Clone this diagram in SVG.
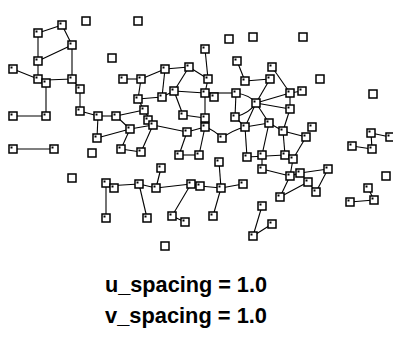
<svg xmlns="http://www.w3.org/2000/svg" xmlns:xlink="http://www.w3.org/1999/xlink" width="393" height="338" viewBox="0 0 393 338">
<style>
.e line{stroke:#000;stroke-width:1.1;fill:none}
.e path{stroke:#000;stroke-width:1.1;fill:none}
.bx{fill:#fff;stroke:#000;stroke-width:1.5}
.dt{fill:#000}
.lb{font-family:"Liberation Sans",Arial,sans-serif;font-weight:bold;font-size:22px;fill:#000}
</style>
<defs>
<g id="b"><rect class="bx" x="-4" y="-4" width="8" height="8"/><rect class="dt" x="-2.5" y="-2.5" width="2" height="2"/></g>
<g id="i"><rect class="bx" x="-4" y="-4" width="8" height="8"/></g>
</defs>
<rect width="393" height="338" fill="#fff"/>
<g id="connectors" class="e">
<line x1="38" y1="33" x2="62" y2="25"/>
<line x1="62" y1="25" x2="72" y2="45"/>
<line x1="38" y1="33" x2="38" y2="61"/>
<line x1="38" y1="61" x2="72" y2="45"/>
<line x1="38" y1="61" x2="38" y2="79"/>
<line x1="13" y1="69" x2="38" y2="79"/>
<line x1="38" y1="79" x2="46" y2="83"/>
<line x1="46" y1="80" x2="72" y2="79"/>
<line x1="72" y1="45" x2="72" y2="79"/>
<line x1="72" y1="79" x2="80" y2="89"/>
<line x1="46" y1="83" x2="46" y2="116"/>
<line x1="13" y1="116" x2="46" y2="116"/>
<line x1="80" y1="89" x2="80" y2="111"/>
<line x1="80" y1="111" x2="98" y2="116"/>
<line x1="98" y1="116" x2="116" y2="116"/>
<line x1="116" y1="116" x2="144" y2="110"/>
<line x1="116" y1="116" x2="130" y2="129"/>
<line x1="98" y1="116" x2="97" y2="138"/>
<line x1="97" y1="138" x2="130" y2="129"/>
<line x1="121" y1="149" x2="130" y2="129"/>
<line x1="121" y1="149" x2="141" y2="152"/>
<line x1="141" y1="152" x2="153" y2="125"/>
<line x1="130" y1="129" x2="153" y2="125"/>
<line x1="144" y1="110" x2="153" y2="125"/>
<line x1="153" y1="125" x2="187" y2="132"/>
<line x1="187" y1="132" x2="205" y2="127"/>
<path d="M205,127 Q214,130 222,138"/>
<path d="M222,138 Q233,130 245,127"/>
<line x1="187" y1="132" x2="179" y2="155"/>
<line x1="179" y1="155" x2="199" y2="155"/>
<line x1="205" y1="127" x2="199" y2="155"/>
<line x1="123" y1="79" x2="141" y2="79"/>
<line x1="141" y1="79" x2="165" y2="69"/>
<line x1="165" y1="69" x2="189" y2="67"/>
<line x1="189" y1="67" x2="208" y2="79"/>
<line x1="205" y1="49" x2="208" y2="79"/>
<line x1="141" y1="79" x2="138" y2="99"/>
<line x1="165" y1="69" x2="162" y2="97"/>
<line x1="138" y1="99" x2="162" y2="97"/>
<line x1="162" y1="97" x2="174" y2="91"/>
<line x1="138" y1="99" x2="144" y2="110"/>
<line x1="189" y1="67" x2="174" y2="91"/>
<line x1="174" y1="91" x2="205" y2="93"/>
<line x1="208" y1="79" x2="205" y2="93"/>
<line x1="205" y1="93" x2="236" y2="93"/>
<line x1="174" y1="91" x2="183" y2="115"/>
<line x1="183" y1="115" x2="205" y2="118"/>
<line x1="205" y1="93" x2="205" y2="127"/>
<line x1="236" y1="93" x2="235" y2="117"/>
<line x1="235" y1="117" x2="245" y2="127"/>
<path d="M236,93 Q250,95 256,103"/>
<path d="M256,103 Q250,113 235,117"/>
<line x1="237" y1="61" x2="245" y2="81"/>
<line x1="245" y1="81" x2="270" y2="79"/>
<line x1="272" y1="67" x2="290" y2="93"/>
<line x1="270" y1="79" x2="256" y2="103"/>
<line x1="256" y1="103" x2="290" y2="93"/>
<line x1="290" y1="93" x2="302" y2="91"/>
<line x1="256" y1="103" x2="290" y2="109"/>
<line x1="290" y1="93" x2="290" y2="109"/>
<line x1="256" y1="103" x2="269" y2="123"/>
<line x1="256" y1="103" x2="245" y2="127"/>
<line x1="245" y1="127" x2="269" y2="123"/>
<line x1="269" y1="123" x2="283" y2="131"/>
<line x1="290" y1="109" x2="283" y2="131"/>
<line x1="283" y1="131" x2="306" y2="137"/>
<line x1="245" y1="127" x2="247" y2="157"/>
<line x1="269" y1="123" x2="262" y2="155"/>
<line x1="283" y1="131" x2="285" y2="155"/>
<line x1="306" y1="137" x2="293" y2="159"/>
<line x1="247" y1="157" x2="285" y2="155"/>
<line x1="262" y1="155" x2="262" y2="169"/>
<line x1="262" y1="169" x2="290" y2="176"/>
<line x1="293" y1="159" x2="290" y2="176"/>
<line x1="290" y1="176" x2="300" y2="173"/>
<line x1="300" y1="173" x2="328" y2="169"/>
<line x1="328" y1="169" x2="316" y2="192"/>
<line x1="308" y1="182" x2="316" y2="192"/>
<line x1="280" y1="197" x2="290" y2="176"/>
<line x1="280" y1="197" x2="308" y2="182"/>
<line x1="161" y1="168" x2="156" y2="188"/>
<line x1="106" y1="183" x2="106" y2="218"/>
<line x1="106" y1="186" x2="139" y2="184"/>
<line x1="139" y1="184" x2="156" y2="188"/>
<line x1="139" y1="184" x2="147" y2="218"/>
<line x1="156" y1="188" x2="191" y2="184"/>
<line x1="191" y1="184" x2="200" y2="186"/>
<line x1="191" y1="184" x2="172" y2="216"/>
<line x1="172" y1="216" x2="185" y2="222"/>
<line x1="200" y1="186" x2="221" y2="188"/>
<line x1="221" y1="188" x2="219" y2="162"/>
<line x1="221" y1="188" x2="243" y2="184"/>
<line x1="221" y1="188" x2="213" y2="216"/>
<line x1="262" y1="206" x2="253" y2="236"/>
<line x1="253" y1="236" x2="272" y2="224"/>
<line x1="13" y1="149" x2="54" y2="149"/>
<line x1="371" y1="133" x2="390" y2="137"/>
<line x1="371" y1="133" x2="372" y2="149"/>
<line x1="352" y1="146" x2="372" y2="149"/>
<line x1="368" y1="188" x2="374" y2="200"/>
<line x1="350" y1="202" x2="374" y2="200"/>
</g>
<g id="n1" transform="translate(38,33)"><use xlink:href="#b"/></g>
<g id="n2" transform="translate(62,25)"><use xlink:href="#b"/></g>
<g id="n3" transform="translate(72,45)"><use xlink:href="#b"/></g>
<g id="n4" transform="translate(38,61)"><use xlink:href="#b"/></g>
<g id="n5" transform="translate(13,69)"><use xlink:href="#b"/></g>
<g id="n6" transform="translate(38,79)"><use xlink:href="#b"/></g>
<g id="n7" transform="translate(46,83)"><use xlink:href="#b"/></g>
<g id="n8" transform="translate(72,79)"><use xlink:href="#b"/></g>
<g id="n9" transform="translate(80,89)"><use xlink:href="#b"/></g>
<g id="n10" transform="translate(13,116)"><use xlink:href="#b"/></g>
<g id="n11" transform="translate(46,116)"><use xlink:href="#b"/></g>
<g id="n12" transform="translate(80,111)"><use xlink:href="#b"/></g>
<g id="n13" transform="translate(98,116)"><use xlink:href="#b"/></g>
<g id="n14" transform="translate(116,116)"><use xlink:href="#b"/></g>
<g id="n15" transform="translate(123,79)"><use xlink:href="#b"/></g>
<g id="n16" transform="translate(141,79)"><use xlink:href="#b"/></g>
<g id="n17" transform="translate(165,69)"><use xlink:href="#b"/></g>
<g id="n18" transform="translate(189,67)"><use xlink:href="#b"/></g>
<g id="n19" transform="translate(208,79)"><use xlink:href="#b"/></g>
<g id="n20" transform="translate(205,49)"><use xlink:href="#b"/></g>
<g id="n21" transform="translate(138,99)"><use xlink:href="#b"/></g>
<g id="n22" transform="translate(162,97)"><use xlink:href="#b"/></g>
<g id="n23" transform="translate(174,91)"><use xlink:href="#b"/></g>
<g id="n24" transform="translate(205,93)"><use xlink:href="#b"/></g>
<g id="n25" transform="translate(214,97)"><use xlink:href="#b"/></g>
<g id="n26" transform="translate(236,93)"><use xlink:href="#b"/></g>
<g id="n27" transform="translate(237,61)"><use xlink:href="#b"/></g>
<g id="n28" transform="translate(245,81)"><use xlink:href="#b"/></g>
<g id="n29" transform="translate(272,67)"><use xlink:href="#b"/></g>
<g id="n30" transform="translate(270,79)"><use xlink:href="#b"/></g>
<g id="n31" transform="translate(256,103)"><use xlink:href="#b"/></g>
<g id="n32" transform="translate(290,93)"><use xlink:href="#b"/></g>
<g id="n33" transform="translate(302,91)"><use xlink:href="#b"/></g>
<g id="n34" transform="translate(290,109)"><use xlink:href="#b"/></g>
<g id="n35" transform="translate(144,110)"><use xlink:href="#b"/></g>
<g id="n36" transform="translate(148,120)"><use xlink:href="#b"/></g>
<g id="n37" transform="translate(153,125)"><use xlink:href="#b"/></g>
<g id="n38" transform="translate(130,129)"><use xlink:href="#b"/></g>
<g id="n39" transform="translate(97,138)"><use xlink:href="#b"/></g>
<g id="n40" transform="translate(183,115)"><use xlink:href="#b"/></g>
<g id="n41" transform="translate(205,118)"><use xlink:href="#b"/></g>
<g id="n42" transform="translate(205,127)"><use xlink:href="#b"/></g>
<g id="n43" transform="translate(187,132)"><use xlink:href="#b"/></g>
<g id="n44" transform="translate(222,138)"><use xlink:href="#b"/></g>
<g id="n45" transform="translate(245,127)"><use xlink:href="#b"/></g>
<g id="n46" transform="translate(235,117)"><use xlink:href="#b"/></g>
<g id="n47" transform="translate(269,123)"><use xlink:href="#b"/></g>
<g id="n48" transform="translate(283,131)"><use xlink:href="#b"/></g>
<g id="n49" transform="translate(312,127)"><use xlink:href="#b"/></g>
<g id="n50" transform="translate(306,137)"><use xlink:href="#b"/></g>
<g id="n51" transform="translate(121,149)"><use xlink:href="#b"/></g>
<g id="n52" transform="translate(141,152)"><use xlink:href="#b"/></g>
<g id="n53" transform="translate(179,155)"><use xlink:href="#b"/></g>
<g id="n54" transform="translate(199,155)"><use xlink:href="#b"/></g>
<g id="n55" transform="translate(161,168)"><use xlink:href="#b"/></g>
<g id="n56" transform="translate(219,162)"><use xlink:href="#b"/></g>
<g id="n57" transform="translate(247,157)"><use xlink:href="#b"/></g>
<g id="n58" transform="translate(262,155)"><use xlink:href="#b"/></g>
<g id="n59" transform="translate(285,155)"><use xlink:href="#b"/></g>
<g id="n60" transform="translate(293,159)"><use xlink:href="#b"/></g>
<g id="n61" transform="translate(262,169)"><use xlink:href="#b"/></g>
<g id="n62" transform="translate(290,176)"><use xlink:href="#b"/></g>
<g id="n63" transform="translate(300,173)"><use xlink:href="#b"/></g>
<g id="n64" transform="translate(308,182)"><use xlink:href="#b"/></g>
<g id="n65" transform="translate(328,169)"><use xlink:href="#b"/></g>
<g id="n66" transform="translate(316,192)"><use xlink:href="#b"/></g>
<g id="n67" transform="translate(280,197)"><use xlink:href="#b"/></g>
<g id="n68" transform="translate(106,183)"><use xlink:href="#b"/></g>
<g id="n69" transform="translate(114,188)"><use xlink:href="#b"/></g>
<g id="n70" transform="translate(139,184)"><use xlink:href="#b"/></g>
<g id="n71" transform="translate(156,188)"><use xlink:href="#b"/></g>
<g id="n72" transform="translate(191,184)"><use xlink:href="#b"/></g>
<g id="n73" transform="translate(200,186)"><use xlink:href="#b"/></g>
<g id="n74" transform="translate(221,188)"><use xlink:href="#b"/></g>
<g id="n75" transform="translate(243,184)"><use xlink:href="#b"/></g>
<g id="n76" transform="translate(106,218)"><use xlink:href="#b"/></g>
<g id="n77" transform="translate(147,218)"><use xlink:href="#b"/></g>
<g id="n78" transform="translate(172,216)"><use xlink:href="#b"/></g>
<g id="n79" transform="translate(185,222)"><use xlink:href="#b"/></g>
<g id="n80" transform="translate(213,216)"><use xlink:href="#b"/></g>
<g id="n81" transform="translate(262,206)"><use xlink:href="#b"/></g>
<g id="n82" transform="translate(272,224)"><use xlink:href="#b"/></g>
<g id="n83" transform="translate(253,236)"><use xlink:href="#b"/></g>
<g id="n84" transform="translate(13,149)"><use xlink:href="#b"/></g>
<g id="n85" transform="translate(54,149)"><use xlink:href="#b"/></g>
<g id="n86" transform="translate(371,133)"><use xlink:href="#b"/></g>
<g id="n87" transform="translate(390,137)"><use xlink:href="#b"/></g>
<g id="n88" transform="translate(352,146)"><use xlink:href="#b"/></g>
<g id="n89" transform="translate(372,149)"><use xlink:href="#b"/></g>
<g id="n90" transform="translate(368,188)"><use xlink:href="#b"/></g>
<g id="n91" transform="translate(374,200)"><use xlink:href="#b"/></g>
<g id="n92" transform="translate(350,202)"><use xlink:href="#b"/></g>
<g id="n93" transform="translate(86,21)"><use xlink:href="#i"/></g>
<g id="n94" transform="translate(138,21)"><use xlink:href="#i"/></g>
<g id="n95" transform="translate(112,58)"><use xlink:href="#i"/></g>
<g id="n96" transform="translate(229,39)"><use xlink:href="#i"/></g>
<g id="n97" transform="translate(253,37)"><use xlink:href="#i"/></g>
<g id="n98" transform="translate(303,37)"><use xlink:href="#i"/></g>
<g id="n99" transform="translate(320,79)"><use xlink:href="#i"/></g>
<g id="n100" transform="translate(373,94)"><use xlink:href="#i"/></g>
<g id="n101" transform="translate(386,176)"><use xlink:href="#i"/></g>
<g id="n102" transform="translate(72,178)"><use xlink:href="#i"/></g>
<g id="n103" transform="translate(92,153)"><use xlink:href="#i"/></g>
<g id="n104" transform="translate(165,246)"><use xlink:href="#i"/></g>
<g id="labels">
<text class="lb" x="105" y="292" textLength="162" lengthAdjust="spacingAndGlyphs">u_spacing = 1.0</text>
<text class="lb" x="105" y="323" textLength="162" lengthAdjust="spacingAndGlyphs">v_spacing = 1.0</text>
</g>
</svg>
